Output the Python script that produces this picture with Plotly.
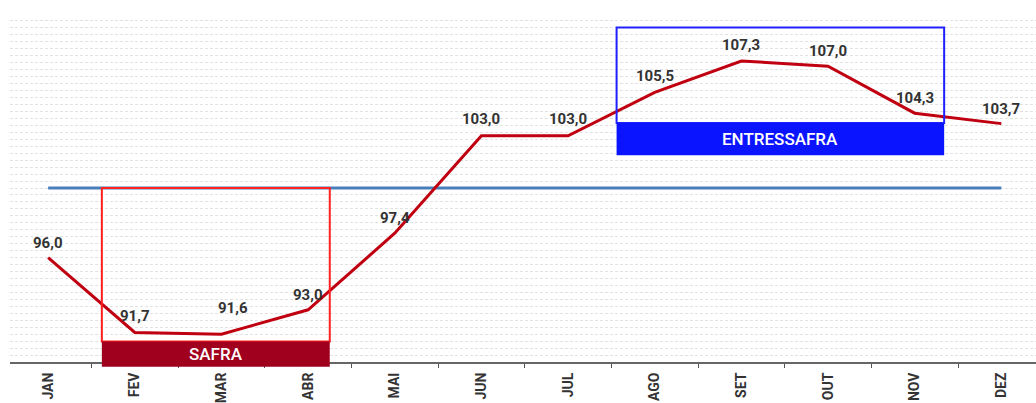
import plotly.graph_objects as go

months = ["JAN", "FEV", "MAR", "ABR", "MAI", "JUN", "JUL", "AGO", "SET", "OUT", "NOV", "DEZ"]
values = [96.0, 91.7, 91.6, 93.0, 97.4, 103.0, 103.0, 105.5, 107.3, 107.0, 104.3, 103.7]
labels = ["96,0", "91,7", "91,6", "93,0", "97,4", "103,0", "103,0", "105,5", "107,3", "107,0", "104,3", "103,7"]
base_level = 100
periods = ["SAFRA", "ENTRESSAFRA"]

# label placement style (pixel offsets)
label_dx = [0, 0, 12, 0, 0, 0, 0, 0, 0, 0, 0, 0]
label_dy = [15, 16, 26, 15, 15, 17, 17, 16, 16, 15, 15, 15]

fig = go.Figure()

# reference line at 100
fig.add_trace(go.Scatter(
    x=[months[0], months[-1]], y=[base_level, base_level], mode="lines",
    line=dict(color="#4A7EBB", width=3), hoverinfo="skip", showlegend=False))

# index line
fig.add_trace(go.Scatter(
    x=months, y=values, mode="lines",
    line=dict(color="#C00010", width=3), showlegend=False))

for m, v, t, dx, dy in zip(months, values, labels, label_dx, label_dy):
    fig.add_annotation(x=m, y=v, text=t, showarrow=False, xshift=dx, yshift=dy,
                       xanchor="center", yanchor="middle",
                       font=dict(family="Roboto", size=15, color="#333333", weight="bold"))

# SAFRA box (FEV-ABR)
fig.add_shape(type="rect", xref="x", yref="paper", x0=0.62, x1=3.25, y0=0.059, y1=0.5,
              line=dict(color="#FF2020", width=2), fillcolor="rgba(0,0,0,0)", layer="above")
fig.add_shape(type="rect", xref="x", yref="paper", x0=0.62, x1=3.25, y0=-0.014, y1=0.059,
              line=dict(width=0), fillcolor="#A0001E", layer="above")
fig.add_annotation(x=(0.62 + 3.25) / 2, xref="x", y=0.023, yref="paper", text=periods[0],
                   showarrow=False, yanchor="middle",
                   font=dict(family="Roboto", size=17, color="white", weight=500))

# ENTRESSAFRA box (AGO-NOV)
fig.add_shape(type="rect", xref="x", yref="paper", x0=6.56, x1=10.34, y0=0.687, y1=0.961,
              line=dict(color="#2020FF", width=2), fillcolor="rgba(0,0,0,0)", layer="above")
fig.add_shape(type="rect", xref="x", yref="paper", x0=6.56, x1=10.34, y0=0.594, y1=0.687,
              line=dict(width=0), fillcolor="#0A14FF", layer="above")
fig.add_annotation(x=(6.56 + 10.34) / 2, xref="x", y=0.640, yref="paper", text=periods[1],
                   showarrow=False, yanchor="middle",
                   font=dict(family="Roboto", size=17, color="white", weight=500))

fig.update_layout(
    width=1036, height=403,
    margin=dict(l=10, r=0, t=14, b=41, autoexpand=False),
    paper_bgcolor="white", plot_bgcolor="white",
    xaxis=dict(type="category", categoryorder="array", categoryarray=months,
               range=[-0.44, 11.4], tickson="boundaries", automargin=False,
               ticks="outside", ticklen=4, tickcolor="#555555", tickwidth=1,
               showline=True, linecolor="#666666", linewidth=2,
               showgrid=False, tickangle=-90, ticklabelstandoff=3,
               tickfont=dict(family="Roboto", size=14, color="#333333", weight="bold")),
    yaxis=dict(range=[90, 110], dtick=0.4, tick0=90, showticklabels=False,
               automargin=False,
               showgrid=True, gridcolor="#E2E2E2", gridwidth=1, griddash="3px,2px",
               zeroline=False, showline=False),
)

fig.write_html("out.html")
